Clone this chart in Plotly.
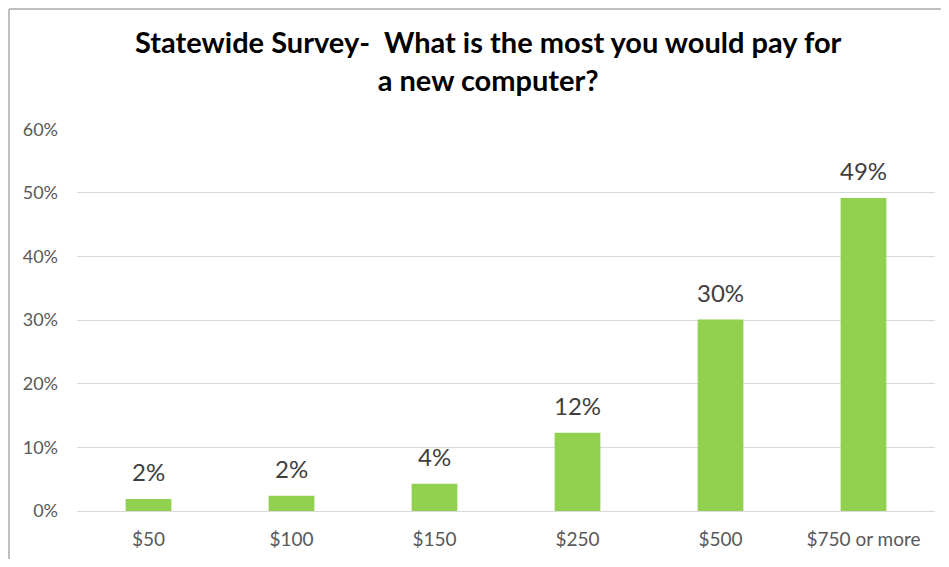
import plotly.graph_objects as go

categories = ["$50", "$100", "$150", "$250", "$500", "$750 or more"]
values = [0.019, 0.024, 0.043, 0.123, 0.301, 0.492]
value_labels = ["2%", "2%", "4%", "12%", "30%", "49%"]
tick_vals = [0, 0.1, 0.2, 0.3, 0.4, 0.5, 0.6]
tick_text = ["0%", "10%", "20%", "30%", "40%", "50%", "60%"]
title_text = "<b>Statewide Survey-&nbsp; What is the most you would pay for<br>a new computer?</b>"

FONT = "Lato, Carlito, sans-serif"
W, H = 933, 551
L, R, T, B = 69, 6, 121, 48
pw, ph = W - L - R, H - T - B

fig = go.Figure()
fig.add_trace(go.Bar(
    x=categories, y=values,
    marker=dict(color="#92D050", line=dict(width=0)),
    width=0.32,
))

annotations = [dict(
    text=title_text, xref="paper", yref="paper",
    x=(480 - L) / pw, y=1 + (T - 14) / ph, xanchor="center", yanchor="top",
    showarrow=False, align="center",
    font=dict(family=FONT, size=29, color="#000000"),
)]
for c, v, t in zip(categories, values, value_labels):
    annotations.append(dict(
        x=c, y=v, text=t, xref="x", yref="y", showarrow=False,
        xanchor="center", yanchor="bottom", yshift=11,
        font=dict(family=FONT, size=24, color="#404040"),
    ))

fig.update_layout(
    width=W, height=H,
    margin=dict(l=L, r=R, t=T, b=B, autoexpand=False),
    paper_bgcolor="white", plot_bgcolor="white",
    showlegend=False,
    font=dict(family=FONT, color="#595959"),
    xaxis=dict(showgrid=False, showline=False, ticks="", automargin=False,
               tickfont=dict(size=19, color="#595959"), ticklabelstandoff=15,
               range=[-0.5, 5.5]),
    yaxis=dict(range=[0, 0.6005], tickvals=tick_vals, ticktext=tick_text, automargin=False,
               showgrid=True, gridcolor="#D9D9D9", gridwidth=1, zeroline=True,
               zerolinecolor="#D9D9D9", zerolinewidth=1, ticks="", showline=False,
               tickfont=dict(size=18, color="#595959"), ticklabelstandoff=18),
    annotations=annotations,
    shapes=[
        dict(type="line", xref="paper", yref="paper",
             x0=(1 - L) / pw, x1=(1 - L) / pw, y0=1 + (T - 1) / ph, y1=-(B + 5) / ph,
             line=dict(color="#BFBFBF", width=2)),
        dict(type="line", xref="paper", yref="paper",
             x0=(1 - L) / pw, x1=1 + (R + 5) / pw, y0=1 + (T - 1) / ph, y1=1 + (T - 1) / ph,
             line=dict(color="#BFBFBF", width=2)),
    ],
)

fig.write_html("out.html")
